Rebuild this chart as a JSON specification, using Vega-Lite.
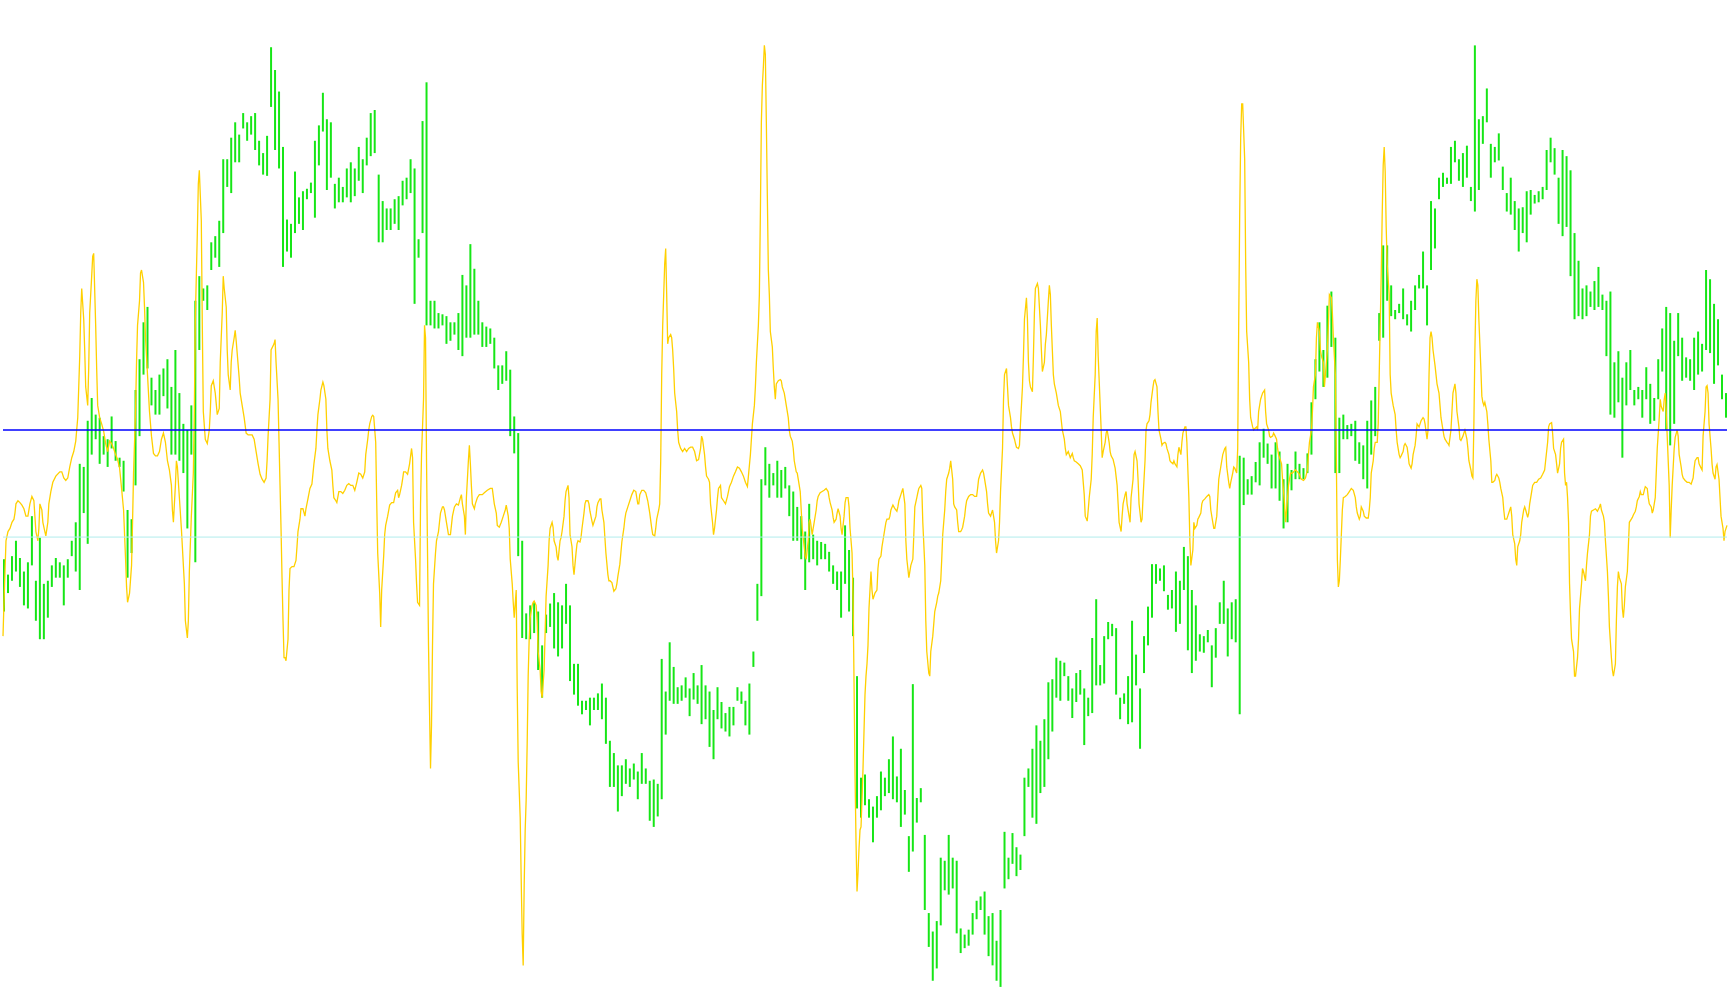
{
"$schema":"https://vega.github.io/schema/vega-lite/v6.json",
"width":1730,"height":1005,
"autosize":{"type":"fit","contains":"padding"},
"padding":0,
"background":"white",
"config":{"view":{"stroke":null}},
"datasets":{
"bars":[
{"x":1,"h":860,"l":945},{"x":5,"h":885,"l":915},{"x":9,"h":855,"l":895},{"x":13,"h":830,"l":880},{"x":17,"h":858,"l":905},{"x":21,"h":880,"l":935},{"x":25,"h":865,"l":940},{"x":29,"h":790,"l":870},{"x":33,"h":895,"l":960},{"x":37,"h":825,"l":990},
{"x":41,"h":900,"l":990},{"x":45,"h":895,"l":955},{"x":49,"h":870,"l":905},{"x":53,"h":858,"l":890},{"x":57,"h":865,"l":890},{"x":61,"h":870,"l":935},{"x":65,"h":860,"l":890},{"x":69,"h":830,"l":855},{"x":73,"h":800,"l":880},{"x":77,"h":705,"l":910},
{"x":81,"h":710,"l":785},{"x":85,"h":635,"l":835},{"x":89,"h":598,"l":690},{"x":93,"h":625,"l":665},{"x":97,"h":630,"l":705},{"x":101,"h":660,"l":690},{"x":105,"h":665,"l":710},{"x":109,"h":628,"l":680},{"x":113,"h":668,"l":700},{"x":117,"h":695,"l":710},
{"x":121,"h":700,"l":750},{"x":125,"h":780,"l":890},{"x":129,"h":795,"l":850},{"x":133,"h":585,"l":740},{"x":137,"h":535,"l":660},{"x":141,"h":475,"l":560},{"x":145,"h":450,"l":550},{"x":149,"h":565,"l":610},{"x":153,"h":585,"l":625},{"x":157,"h":560,"l":625},
{"x":161,"h":550,"l":595},{"x":165,"h":535,"l":615},{"x":169,"h":580,"l":690},{"x":173,"h":520,"l":690},{"x":177,"h":590,"l":700},{"x":181,"h":640,"l":720},{"x":185,"h":650,"l":810},{"x":189,"h":610,"l":690},{"x":193,"h":440,"l":865},{"x":197,"h":400,"l":520},
{"x":201,"h":420,"l":440},{"x":205,"h":415,"l":455},{"x":209,"h":345,"l":390},{"x":213,"h":335,"l":370},{"x":217,"h":310,"l":385},{"x":221,"h":210,"l":330},{"x":225,"h":210,"l":255},{"x":229,"h":175,"l":265},{"x":233,"h":150,"l":215},{"x":237,"h":170,"l":215},
{"x":241,"h":135,"l":160},{"x":245,"h":150,"l":180},{"x":249,"h":140,"l":170},{"x":253,"h":135,"l":195},{"x":257,"h":180,"l":220},{"x":261,"h":200,"l":235},{"x":265,"h":172,"l":237},{"x":269,"h":28,"l":125},{"x":273,"h":65,"l":195},{"x":277,"h":100,"l":225},
{"x":281,"h":190,"l":385},{"x":285,"h":308,"l":360},{"x":289,"h":315,"l":370},{"x":293,"h":230,"l":330},{"x":297,"h":272,"l":315},{"x":301,"h":262,"l":325},{"x":305,"h":258,"l":275},{"x":309,"h":248,"l":265},{"x":313,"h":180,"l":305},{"x":317,"h":155,"l":220},
{"x":321,"h":102,"l":165},{"x":325,"h":145,"l":260},{"x":329,"h":150,"l":240},{"x":333,"h":250,"l":290},{"x":337,"h":240,"l":280},{"x":341,"h":255,"l":280},{"x":345,"h":225,"l":272},{"x":349,"h":215,"l":280},{"x":353,"h":225,"l":270},{"x":357,"h":190,"l":245},
{"x":361,"h":210,"l":265},{"x":365,"h":175,"l":220},{"x":369,"h":135,"l":205},{"x":373,"h":130,"l":200},{"x":377,"h":235,"l":345},{"x":381,"h":278,"l":345},{"x":385,"h":290,"l":325},{"x":389,"h":290,"l":325},{"x":393,"h":275,"l":315},{"x":397,"h":270,"l":325},
{"x":401,"h":245,"l":285},{"x":405,"h":240,"l":275},{"x":409,"h":210,"l":265},{"x":413,"h":225,"l":445},{"x":417,"h":340,"l":370},{"x":421,"h":148,"l":330},{"x":425,"h":85,"l":480},{"x":429,"h":440,"l":480},{"x":433,"h":440,"l":485},{"x":437,"h":460,"l":485},
{"x":441,"h":462,"l":480},{"x":445,"h":465,"l":510},{"x":449,"h":475,"l":505},{"x":453,"h":475,"l":495},{"x":457,"h":460,"l":520},{"x":461,"h":398,"l":530},{"x":465,"h":415,"l":500},{"x":469,"h":348,"l":500},{"x":473,"h":388,"l":495},{"x":477,"h":440,"l":495},
{"x":481,"h":475,"l":515},{"x":485,"h":482,"l":515},{"x":489,"h":485,"l":510},{"x":493,"h":500,"l":550},{"x":497,"h":545,"l":585},{"x":501,"h":545,"l":575},{"x":505,"h":522,"l":570},{"x":509,"h":552,"l":660},{"x":513,"h":628,"l":688},{"x":517,"h":655,"l":855},
{"x":521,"h":830,"l":988},{"x":525,"h":948,"l":990},{"x":529,"h":935,"l":990},{"x":533,"h":930,"l":980},{"x":537,"h":945,"l":1040},{"x":541,"h":1000,"l":1085},{"x":545,"h":950,"l":980},{"x":549,"h":932,"l":970},{"x":553,"h":915,"l":1005},{"x":557,"h":930,"l":1018},
{"x":561,"h":935,"l":1005},{"x":565,"h":900,"l":965},{"x":569,"h":935,"l":1058},{"x":573,"h":1030,"l":1080},{"x":577,"h":1030,"l":1098},{"x":581,"h":1090,"l":1112},{"x":585,"h":1090,"l":1105},{"x":589,"h":1085,"l":1130},{"x":593,"h":1085,"l":1105},{"x":597,"h":1078,"l":1105},
{"x":601,"h":1062,"l":1120},{"x":605,"h":1085,"l":1160},{"x":609,"h":1155,"l":1230},{"x":613,"h":1175,"l":1230},{"x":617,"h":1195,"l":1270},{"x":621,"h":1195,"l":1245},{"x":625,"h":1185,"l":1225},{"x":629,"h":1200,"l":1230},{"x":633,"h":1192,"l":1218},{"x":637,"h":1205,"l":1250},
{"x":641,"h":1175,"l":1225},{"x":645,"h":1200,"l":1225},{"x":649,"h":1220,"l":1285},{"x":653,"h":1218,"l":1295},{"x":657,"h":1225,"l":1278},{"x":661,"h":1022,"l":1250},{"x":665,"h":1075,"l":1145},{"x":669,"h":995,"l":1090},{"x":673,"h":1035,"l":1095},{"x":677,"h":1068,"l":1095},
{"x":681,"h":1065,"l":1090},{"x":685,"h":1052,"l":1085},{"x":689,"h":1070,"l":1115},{"x":693,"h":1045,"l":1088},{"x":697,"h":1065,"l":1095},{"x":701,"h":1032,"l":1128},{"x":705,"h":1065,"l":1120},{"x":709,"h":1075,"l":1165},{"x":713,"h":1105,"l":1185},{"x":717,"h":1068,"l":1120},
{"x":721,"h":1092,"l":1135},{"x":725,"h":1110,"l":1140},{"x":729,"h":1100,"l":1148},{"x":733,"h":1100,"l":1130},{"x":737,"h":1068,"l":1090},{"x":741,"h":1075,"l":1095},{"x":745,"h":1090,"l":1130},{"x":749,"h":1062,"l":1145},{"x":753,"h":1010,"l":1035},{"x":757,"h":900,"l":960},
{"x":761,"h":730,"l":920},{"x":765,"h":678,"l":740},{"x":769,"h":705,"l":760},{"x":773,"h":720,"l":740},{"x":777,"h":700,"l":760},{"x":781,"h":715,"l":760},{"x":785,"h":710,"l":745},{"x":789,"h":740,"l":790},{"x":793,"h":750,"l":830},{"x":797,"h":775,"l":830},
{"x":801,"h":790,"l":860},{"x":805,"h":815,"l":910},{"x":809,"h":770,"l":865},{"x":813,"h":820,"l":860},{"x":817,"h":830,"l":870},{"x":821,"h":832,"l":860},{"x":825,"h":835,"l":860},{"x":829,"h":848,"l":880},{"x":833,"h":870,"l":900},{"x":837,"h":880,"l":910},
{"x":841,"h":880,"l":955},{"x":845,"h":805,"l":900},{"x":849,"h":845,"l":945},{"x":853,"h":890,"l":985},{"x":857,"h":1050,"l":1265},{"x":861,"h":1215,"l":1280},{"x":865,"h":1210,"l":1260},{"x":869,"h":1250,"l":1280},{"x":873,"h":1262,"l":1320},{"x":877,"h":1245,"l":1280},
{"x":881,"h":1205,"l":1268},{"x":885,"h":1215,"l":1245},{"x":889,"h":1185,"l":1240},{"x":893,"h":1148,"l":1250},{"x":897,"h":1213,"l":1255},{"x":901,"h":1168,"l":1295},{"x":905,"h":1235,"l":1275},{"x":909,"h":1310,"l":1368},{"x":913,"h":1063,"l":1335},{"x":917,"h":1248,"l":1288},
{"x":921,"h":1232,"l":1255},{"x":925,"h":1308,"l":1430},{"x":929,"h":1435,"l":1490},{"x":933,"h":1465,"l":1545},{"x":937,"h":1448,"l":1525},{"x":941,"h":1345,"l":1455},{"x":945,"h":1350,"l":1398},{"x":949,"h":1308,"l":1405},{"x":953,"h":1345,"l":1395},{"x":957,"h":1350,"l":1468},
{"x":961,"h":1460,"l":1500},{"x":965,"h":1470,"l":1492},{"x":969,"h":1462,"l":1488},{"x":973,"h":1435,"l":1470},{"x":977,"h":1415,"l":1445},{"x":981,"h":1408,"l":1430},{"x":985,"h":1400,"l":1470},{"x":989,"h":1440,"l":1505},{"x":993,"h":1435,"l":1520},{"x":997,"h":1480,"l":1545},
{"x":1001,"h":1430,"l":1555},{"x":1005,"h":1303,"l":1395},{"x":1009,"h":1345,"l":1380},{"x":1013,"h":1305,"l":1355},{"x":1017,"h":1328,"l":1375},{"x":1021,"h":1340,"l":1365},{"x":1025,"h":1215,"l":1310},{"x":1029,"h":1200,"l":1230},{"x":1033,"h":1168,"l":1280},{"x":1037,"h":1130,"l":1290},
{"x":1041,"h":1155,"l":1240},{"x":1045,"h":1120,"l":1230},{"x":1049,"h":1060,"l":1185},{"x":1053,"h":1055,"l":1140},{"x":1057,"h":1020,"l":1085},{"x":1061,"h":1025,"l":1090},{"x":1065,"h":1028,"l":1050},{"x":1069,"h":1050,"l":1090},{"x":1073,"h":1070,"l":1118},{"x":1077,"h":1045,"l":1092},
{"x":1081,"h":1040,"l":1080},{"x":1085,"h":1070,"l":1162},{"x":1089,"h":1085,"l":1115},{"x":1093,"h":988,"l":1110},{"x":1097,"h":925,"l":1065},{"x":1101,"h":1032,"l":1065},{"x":1105,"h":985,"l":1062},{"x":1109,"h":962,"l":990},{"x":1113,"h":965,"l":985},{"x":1117,"h":972,"l":1080},
{"x":1121,"h":1085,"l":1120},{"x":1125,"h":1078,"l":1095},{"x":1129,"h":1050,"l":1128},{"x":1133,"h":960,"l":1125},{"x":1137,"h":1015,"l":1065},{"x":1141,"h":1070,"l":1168},{"x":1145,"h":985,"l":1045},{"x":1149,"h":937,"l":1000},{"x":1153,"h":868,"l":955},{"x":1157,"h":868,"l":900},
{"x":1161,"h":875,"l":895},{"x":1165,"h":870,"l":912},{"x":1169,"h":918,"l":942},{"x":1173,"h":910,"l":940},{"x":1177,"h":880,"l":978},{"x":1181,"h":895,"l":965},{"x":1185,"h":840,"l":910},{"x":1189,"h":855,"l":1008},{"x":1193,"h":910,"l":1045},{"x":1197,"h":935,"l":1025},
{"x":1201,"h":982,"l":1010},{"x":1205,"h":985,"l":1012},{"x":1209,"h":975,"l":995},{"x":1213,"h":1000,"l":1068},{"x":1217,"h":972,"l":1020},{"x":1221,"h":930,"l":965},{"x":1225,"h":895,"l":965},{"x":1229,"h":940,"l":1018},{"x":1233,"h":930,"l":990},{"x":1237,"h":925,"l":995},
{"x":1241,"h":692,"l":1112},{"x":1245,"h":695,"l":772},{"x":1249,"h":730,"l":755},{"x":1253,"h":725,"l":755},{"x":1257,"h":702,"l":735},{"x":1261,"h":670,"l":740},{"x":1265,"h":648,"l":695},{"x":1269,"h":672,"l":705},{"x":1273,"h":690,"l":745},{"x":1277,"h":670,"l":745},
{"x":1281,"h":685,"l":765},{"x":1285,"h":730,"l":810},{"x":1289,"h":705,"l":800},{"x":1293,"h":715,"l":748},{"x":1297,"h":685,"l":730},{"x":1301,"h":705,"l":730},{"x":1305,"h":712,"l":730},{"x":1309,"h":688,"l":720},{"x":1313,"h":605,"l":690},{"x":1317,"h":535,"l":600},
{"x":1321,"h":475,"l":555},{"x":1325,"h":520,"l":580},{"x":1329,"h":448,"l":565},{"x":1333,"h":425,"l":515},{"x":1337,"h":500,"l":720},{"x":1341,"h":630,"l":720},{"x":1345,"h":625,"l":665},{"x":1349,"h":642,"l":665},{"x":1353,"h":640,"l":660},{"x":1357,"h":635,"l":700},
{"x":1361,"h":670,"l":705},{"x":1365,"h":675,"l":730},{"x":1369,"h":635,"l":745},{"x":1373,"h":602,"l":690},{"x":1377,"h":580,"l":660},{"x":1381,"h":460,"l":505},{"x":1385,"h":350,"l":500},{"x":1389,"h":350,"l":440},{"x":1393,"h":415,"l":465},{"x":1397,"h":455,"l":470},
{"x":1401,"h":445,"l":460},{"x":1405,"h":420,"l":470},{"x":1409,"h":462,"l":480},{"x":1413,"h":440,"l":490},{"x":1417,"h":415,"l":455},{"x":1421,"h":398,"l":420},{"x":1425,"h":360,"l":420},{"x":1429,"h":415,"l":480},{"x":1433,"h":278,"l":390},{"x":1437,"h":290,"l":355},
{"x":1441,"h":240,"l":275},{"x":1445,"h":232,"l":255},{"x":1449,"h":240,"l":250},{"x":1453,"h":190,"l":250},{"x":1457,"h":180,"l":215},{"x":1461,"h":210,"l":245},{"x":1465,"h":200,"l":255},{"x":1469,"h":188,"l":240},{"x":1473,"h":255,"l":278},{"x":1477,"h":25,"l":295},
{"x":1481,"h":145,"l":260},{"x":1485,"h":140,"l":185},{"x":1489,"h":95,"l":150},{"x":1493,"h":185,"l":240},{"x":1497,"h":190,"l":215},{"x":1501,"h":168,"l":212},{"x":1505,"h":222,"l":260},{"x":1509,"h":265,"l":295},{"x":1513,"h":240,"l":300},{"x":1517,"h":278,"l":325},
{"x":1521,"h":290,"l":360},{"x":1525,"h":288,"l":330},{"x":1529,"h":262,"l":345},{"x":1533,"h":260,"l":300},{"x":1537,"h":268,"l":282},{"x":1541,"h":262,"l":280},{"x":1545,"h":255,"l":275},{"x":1549,"h":195,"l":260},{"x":1553,"h":175,"l":215},{"x":1557,"h":192,"l":235},
{"x":1561,"h":240,"l":315},{"x":1565,"h":195,"l":335},{"x":1569,"h":205,"l":320},{"x":1573,"h":228,"l":400},{"x":1577,"h":330,"l":470},{"x":1581,"h":375,"l":465},{"x":1585,"h":420,"l":470},{"x":1589,"h":415,"l":465},{"x":1593,"h":425,"l":450},{"x":1597,"h":408,"l":455},
{"x":1601,"h":385,"l":450},{"x":1605,"h":430,"l":455},{"x":1609,"h":440,"l":530},{"x":1613,"h":425,"l":625},{"x":1617,"h":540,"l":630},{"x":1621,"h":522,"l":605},{"x":1625,"h":565,"l":695},{"x":1629,"h":540,"l":610},{"x":1633,"h":520,"l":585},{"x":1637,"h":585,"l":610},
{"x":1641,"h":580,"l":600},{"x":1645,"h":585,"l":630},{"x":1649,"h":548,"l":600},{"x":1653,"h":575,"l":640},{"x":1657,"h":598,"l":635},{"x":1661,"h":535,"l":600},{"x":1665,"h":485,"l":555},{"x":1669,"h":450,"l":650},{"x":1673,"h":460,"l":675},{"x":1677,"h":505,"l":640},
{"x":1681,"h":460,"l":530},{"x":1685,"h":500,"l":570},{"x":1689,"h":532,"l":565},{"x":1693,"h":535,"l":570},{"x":1697,"h":500,"l":585},{"x":1701,"h":490,"l":560},{"x":1705,"h":510,"l":555},{"x":1709,"h":390,"l":520},{"x":1713,"h":405,"l":525},{"x":1717,"h":445,"l":575},
{"x":1721,"h":470,"l":545},{"x":1725,"h":560,"l":600},{"x":1729,"h":590,"l":630}
],
"osc":[
{"x":0,"v":985},{"x":1,"v":930},{"x":2,"v":880},{"x":3,"v":830},{"x":5,"v":815},{"x":7,"v":810},{"x":9,"v":800},{"x":11,"v":795},{"x":12,"v":785},{"x":13,"v":770},{"x":15,"v":765},{"x":17,"v":768},{"x":19,"v":772},{"x":21,"v":778},{"x":23,"v":790},{"x":25,"v":790},{"x":27,"v":770},{"x":29,"v":758},{"x":31,"v":765},{"x":32,"v":790},{"x":33,"v":815},{"x":35,"v":830},{"x":36,"v":810},{"x":37,"v":770},{"x":39,"v":780},{"x":40,"v":800},{"x":42,"v":815},{"x":43,"v":822},{"x":45,"v":800},{"x":46,"v":770},{"x":48,"v":750},{"x":50,"v":735},{"x":53,"v":725},{"x":57,"v":718},{"x":59,"v":718},{"x":61,"v":728},{"x":63,"v":732},{"x":65,"v":728},{"x":67,"v":710},{"x":69,"v":695},{"x":71,"v":685},{"x":73,"v":668},{"x":75,"v":630},{"x":76,"v":580},{"x":77,"v":530},{"x":78,"v":460},{"x":79,"v":420},{"x":81,"v":470},{"x":82,"v":520},{"x":83,"v":580},{"x":85,"v":610},{"x":86,"v":550},{"x":87,"v":460},{"x":89,"v":400},{"x":90,"v":368},{"x":91,"v":363},{"x":93,"v":480},{"x":94,"v":550},{"x":95,"v":610},{"x":97,"v":630},{"x":99,"v":640},{"x":101,"v":652},{"x":103,"v":672},{"x":105,"v":685},{"x":107,"v":668},{"x":109,"v":672},{"x":111,"v":680},{"x":113,"v":690},{"x":115,"v":698},{"x":117,"v":712},{"x":119,"v":745},{"x":121,"v":780},{"x":123,"v":860},{"x":124,"v":905},{"x":125,"v":930},{"x":127,"v":915},{"x":129,"v":870},{"x":130,"v":800},{"x":131,"v":720},{"x":133,"v":620},{"x":134,"v":540},{"x":135,"v":480},{"x":137,"v":440},{"x":138,"v":395},{"x":139,"v":390},{"x":141,"v":410},{"x":142,"v":450},{"x":143,"v":500},{"x":145,"v":560},{"x":147,"v":620},{"x":149,"v":660},{"x":151,"v":688},{"x":153,"v":692},{"x":155,"v":692},{"x":157,"v":685},{"x":159,"v":665},{"x":161,"v":655},{"x":163,"v":670},{"x":165,"v":700},{"x":167,"v":715},{"x":169,"v":740},{"x":170,"v":780},{"x":171,"v":800},{"x":173,"v":740},{"x":174,"v":700},{"x":175,"v":710},{"x":177,"v":760},{"x":179,"v":810},{"x":180,"v":840},{"x":182,"v":900},{"x":183,"v":960},{"x":185,"v":988},{"x":186,"v":960},{"x":187,"v":880},{"x":189,"v":790},{"x":191,"v":720},{"x":192,"v":620},{"x":193,"v":470},{"x":195,"v":330},{"x":196,"v":250},{"x":197,"v":228},{"x":199,"v":310},{"x":200,"v":480},{"x":201,"v":620},{"x":203,"v":665},{"x":205,"v":672},{"x":207,"v":650},{"x":208,"v":620},{"x":209,"v":578},{"x":211,"v":570},{"x":213,"v":590},{"x":215,"v":625},
{"x":217,"v":615},{"x":218,"v":540},{"x":220,"v":460},{"x":221,"v":400},{"x":222,"v":420},{"x":224,"v":450},{"x":225,"v":520},{"x":226,"v":560},{"x":228,"v":585},{"x":229,"v":540},{"x":230,"v":520},{"x":232,"v":500},{"x":233,"v":488},{"x":234,"v":505},{"x":236,"v":545},{"x":237,"v":565},{"x":238,"v":590},{"x":240,"v":610},{"x":242,"v":630},{"x":244,"v":655},{"x":246,"v":658},{"x":250,"v":658},{"x":252,"v":665},{"x":254,"v":685},{"x":256,"v":705},{"x":258,"v":722},{"x":260,"v":730},{"x":262,"v":735},{"x":264,"v":728},{"x":265,"v":700},{"x":266,"v":660},{"x":268,"v":600},{"x":269,"v":520},{"x":272,"v":510},{"x":273,"v":503},{"x":274,"v":540},{"x":276,"v":600},{"x":277,"v":670},{"x":278,"v":740},{"x":279,"v":810},{"x":280,"v":890},{"x":281,"v":960},{"x":282,"v":1020},{"x":283,"v":1020},{"x":284,"v":1025},{"x":286,"v":990},{"x":287,"v":910},{"x":288,"v":875},{"x":290,"v":872},{"x":292,"v":872},{"x":294,"v":862},{"x":295,"v":840},{"x":296,"v":815},{"x":298,"v":795},{"x":299,"v":778},{"x":301,"v":778},{"x":303,"v":790},{"x":304,"v":778},{"x":306,"v":762},{"x":308,"v":745},{"x":310,"v":738},{"x":312,"v":705},{"x":314,"v":680},{"x":315,"v":650},{"x":316,"v":625},{"x":318,"v":600},{"x":319,"v":585},{"x":321,"v":572},{"x":322,"v":578},{"x":324,"v":600},{"x":325,"v":650},{"x":326,"v":680},{"x":328,"v":700},{"x":330,"v":715},{"x":331,"v":740},{"x":332,"v":760},{"x":334,"v":765},{"x":335,"v":768},{"x":337,"v":750},{"x":339,"v":750},{"x":341,"v":753},{"x":343,"v":748},{"x":345,"v":740},{"x":347,"v":737},{"x":349,"v":740},{"x":351,"v":740},{"x":353,"v":748},{"x":355,"v":735},{"x":357,"v":720},{"x":359,"v":722},{"x":361,"v":728},{"x":363,"v":718},{"x":364,"v":690},{"x":366,"v":665},{"x":367,"v":650},{"x":368,"v":640},{"x":370,"v":628},{"x":371,"v":626},{"x":372,"v":628},{"x":374,"v":670},{"x":375,"v":765},{"x":376,"v":850},{"x":378,"v":915},{"x":379,"v":970},{"x":380,"v":910},{"x":382,"v":855},{"x":383,"v":820},{"x":384,"v":805},{"x":386,"v":790},{"x":388,"v":772},{"x":390,"v":768},{"x":392,"v":768},{"x":393,"v":760},{"x":394,"v":752},{"x":396,"v":748},{"x":397,"v":760},{"x":398,"v":755},{"x":400,"v":740},{"x":401,"v":730},{"x":402,"v":718},{"x":404,"v":718},{"x":406,"v":722},{"x":408,"v":705},{"x":410,"v":680},{"x":411,"v":695},{"x":412,"v":800},{"x":414,"v":860},{"x":415,"v":900},{"x":416,"v":930},{"x":418,"v":935},{"x":419,"v":770},{"x":420,"v":690},{"x":422,"v":600},{"x":423,"v":480},{"x":424,"v":500},{"x":425,"v":700},{"x":426,"v":850},{"x":427,"v":1000},{"x":428,"v":1105},{"x":429,"v":1200},{"x":430,"v":1130},{"x":431,"v":1000},{"x":432,"v":900},{"x":434,"v":850},
{"x":435,"v":830},{"x":437,"v":815},{"x":438,"v":800},{"x":439,"v":785},{"x":441,"v":775},{"x":442,"v":775},{"x":443,"v":780},{"x":445,"v":800},{"x":446,"v":810},{"x":447,"v":820},{"x":449,"v":820},{"x":450,"v":805},{"x":451,"v":790},{"x":453,"v":775},{"x":455,"v":770},{"x":457,"v":772},{"x":459,"v":760},{"x":460,"v":755},{"x":461,"v":770},{"x":463,"v":790},{"x":464,"v":820},{"x":465,"v":760},{"x":467,"v":700},{"x":468,"v":675},{"x":469,"v":705},{"x":470,"v":740},{"x":471,"v":770},{"x":473,"v":778},{"x":474,"v":770},{"x":476,"v":760},{"x":478,"v":755},{"x":481,"v":755},{"x":483,"v":752},{"x":486,"v":748},{"x":489,"v":745},{"x":491,"v":745},{"x":493,"v":770},{"x":495,"v":785},{"x":496,"v":805},{"x":498,"v":808},{"x":500,"v":800},{"x":502,"v":790},{"x":504,"v":780},{"x":505,"v":772},{"x":507,"v":790},{"x":508,"v":810},{"x":509,"v":860},{"x":511,"v":900},{"x":512,"v":930},{"x":513,"v":955},{"x":515,"v":910},{"x":516,"v":1070},{"x":517,"v":1190},{"x":519,"v":1280},{"x":520,"v":1380},{"x":521,"v":1470},{"x":522,"v":1520},{"x":523,"v":1390},{"x":524,"v":1300},{"x":525,"v":1250},{"x":526,"v":1160},{"x":527,"v":1050},{"x":528,"v":990},{"x":529,"v":955},{"x":531,"v":935},{"x":532,"v":930},{"x":533,"v":928},{"x":535,"v":935},{"x":536,"v":960},{"x":537,"v":1010},{"x":539,"v":1040},{"x":540,"v":1075},{"x":541,"v":1085},{"x":543,"v":1040},{"x":544,"v":980},{"x":545,"v":920},{"x":547,"v":870},{"x":548,"v":830},{"x":549,"v":810},{"x":551,"v":800},{"x":552,"v":808},{"x":553,"v":830},{"x":555,"v":840},{"x":556,"v":855},{"x":557,"v":862},{"x":559,"v":830},{"x":560,"v":825},{"x":561,"v":815},{"x":563,"v":790},{"x":564,"v":765},{"x":565,"v":750},{"x":567,"v":740},{"x":568,"v":760},{"x":569,"v":820},{"x":571,"v":840},{"x":572,"v":870},{"x":573,"v":885},{"x":575,"v":850},{"x":576,"v":835},{"x":577,"v":830},{"x":579,"v":832},{"x":580,"v":825},{"x":581,"v":810},{"x":583,"v":785},{"x":584,"v":770},{"x":585,"v":765},{"x":587,"v":765},{"x":588,"v":770},{"x":589,"v":782},{"x":591,"v":798},{"x":592,"v":805},{"x":593,"v":800},{"x":595,"v":790},{"x":596,"v":775},{"x":597,"v":768},{"x":599,"v":762},{"x":600,"v":762},{"x":601,"v":780},{"x":603,"v":800},{"x":604,"v":825},{"x":605,"v":850},{"x":607,"v":885},{"x":608,"v":895},{"x":609,"v":895},{"x":611,"v":898},{"x":612,"v":905},{"x":613,"v":912},{"x":615,"v":908},{"x":616,"v":900},{"x":617,"v":888},{"x":619,"v":868},{"x":620,"v":850},{"x":621,"v":832},{"x":623,"v":810},{"x":624,"v":795},{"x":625,"v":785},{"x":627,"v":775},{"x":629,"v":765},{"x":631,"v":755},{"x":633,"v":748},{"x":635,"v":750},{"x":637,"v":770},{"x":638,"v":770},{"x":639,"v":755},{"x":641,"v":748},{"x":643,"v":748},{"x":645,"v":752},{"x":647,"v":765},{"x":649,"v":785},{"x":651,"v":810},
{"x":652,"v":820},{"x":654,"v":822},{"x":655,"v":810},{"x":656,"v":795},{"x":658,"v":780},{"x":659,"v":770},{"x":660,"v":700},{"x":661,"v":560},{"x":662,"v":480},{"x":663,"v":430},{"x":664,"v":380},{"x":665,"v":355},{"x":666,"v":430},{"x":667,"v":510},{"x":668,"v":500},{"x":670,"v":495},{"x":671,"v":500},{"x":672,"v":520},{"x":673,"v":550},{"x":674,"v":590},{"x":676,"v":620},{"x":677,"v":650},{"x":678,"v":670},{"x":680,"v":680},{"x":682,"v":685},{"x":684,"v":680},{"x":686,"v":685},{"x":688,"v":680},{"x":690,"v":678},{"x":692,"v":678},{"x":694,"v":685},{"x":696,"v":700},{"x":698,"v":698},{"x":700,"v":680},{"x":701,"v":660},{"x":702,"v":665},{"x":704,"v":690},{"x":705,"v":710},{"x":706,"v":725},{"x":708,"v":730},{"x":709,"v":735},{"x":710,"v":770},{"x":712,"v":800},{"x":713,"v":820},{"x":714,"v":810},{"x":716,"v":780},{"x":717,"v":760},{"x":718,"v":745},{"x":720,"v":740},{"x":721,"v":760},{"x":723,"v":765},{"x":725,"v":770},{"x":727,"v":758},{"x":729,"v":742},{"x":731,"v":735},{"x":733,"v":725},{"x":735,"v":718},{"x":737,"v":710},{"x":739,"v":712},{"x":741,"v":718},{"x":743,"v":725},{"x":745,"v":735},{"x":747,"v":742},{"x":748,"v":725},{"x":750,"v":690},{"x":751,"v":665},{"x":752,"v":640},{"x":754,"v":610},{"x":755,"v":580},{"x":756,"v":540},{"x":758,"v":480},{"x":759,"v":430},{"x":760,"v":300},{"x":761,"v":150},{"x":762,"v":90},{"x":763,"v":60},{"x":764,"v":25},{"x":765,"v":40},{"x":766,"v":150},{"x":767,"v":270},{"x":768,"v":390},{"x":769,"v":430},{"x":770,"v":490},{"x":772,"v":515},{"x":773,"v":550},{"x":774,"v":580},{"x":775,"v":600},{"x":776,"v":575},{"x":778,"v":570},{"x":780,"v":568},{"x":781,"v":570},{"x":782,"v":580},{"x":784,"v":590},{"x":785,"v":600},{"x":786,"v":610},{"x":788,"v":630},{"x":789,"v":650},{"x":790,"v":660},{"x":792,"v":668},{"x":793,"v":680},{"x":794,"v":700},{"x":796,"v":718},{"x":797,"v":720},{"x":798,"v":730},{"x":800,"v":750},{"x":801,"v":780},{"x":802,"v":810},{"x":804,"v":840},{"x":805,"v":855},{"x":806,"v":860},{"x":808,"v":830},{"x":809,"v":800},{"x":810,"v":795},{"x":812,"v":820},{"x":813,"v":810},{"x":814,"v":800},{"x":816,"v":780},{"x":817,"v":765},{"x":818,"v":758},{"x":820,"v":752},{"x":822,"v":750},{"x":824,"v":748},{"x":826,"v":745},{"x":828,"v":750},{"x":829,"v":760},{"x":830,"v":768},{"x":832,"v":780},{"x":833,"v":792},{"x":834,"v":800},{"x":836,"v":795},{"x":837,"v":785},{"x":838,"v":778},{"x":840,"v":790},{"x":841,"v":810},{"x":842,"v":820},{"x":844,"v":790},{"x":845,"v":768},{"x":846,"v":760},{"x":848,"v":760},{"x":849,"v":775},{"x":850,"v":810},{"x":852,"v":850},{"x":853,"v":920},{"x":854,"v":1060},{"x":855,"v":1210},{"x":856,"v":1320},{"x":857,"v":1400},{"x":858,"v":1370},{"x":859,"v":1330},{"x":860,"v":1300},{"x":861,"v":1295},{"x":862,"v":1250},{"x":863,"v":1200},{"x":864,"v":1140},{"x":865,"v":1080},{"x":866,"v":1050},{"x":867,"v":1030},{"x":868,"v":1000},
{"x":869,"v":940},{"x":871,"v":880},{"x":872,"v":910},{"x":873,"v":925},{"x":875,"v":915},{"x":877,"v":910},{"x":878,"v":875},{"x":879,"v":860},{"x":881,"v":855},{"x":882,"v":840},{"x":883,"v":830},{"x":885,"v":810},{"x":886,"v":800},{"x":887,"v":795},{"x":889,"v":795},{"x":890,"v":790},{"x":891,"v":780},{"x":893,"v":772},{"x":894,"v":775},{"x":895,"v":778},{"x":897,"v":782},{"x":898,"v":775},{"x":899,"v":765},{"x":901,"v":755},{"x":902,"v":750},{"x":903,"v":745},{"x":905,"v":770},{"x":906,"v":830},{"x":907,"v":860},{"x":909,"v":890},{"x":910,"v":880},{"x":911,"v":870},{"x":913,"v":860},{"x":914,"v":820},{"x":915,"v":775},{"x":917,"v":760},{"x":918,"v":752},{"x":919,"v":745},{"x":921,"v":740},{"x":922,"v":745},{"x":923,"v":800},{"x":925,"v":870},{"x":926,"v":960},{"x":927,"v":1010},{"x":929,"v":1045},{"x":930,"v":1050},{"x":931,"v":1010},{"x":933,"v":985},{"x":934,"v":965},{"x":935,"v":945},{"x":937,"v":930},{"x":938,"v":920},{"x":939,"v":915},{"x":941,"v":895},{"x":942,"v":860},{"x":943,"v":820},{"x":945,"v":780},{"x":946,"v":750},{"x":947,"v":730},{"x":949,"v":720},{"x":950,"v":712},{"x":951,"v":700},{"x":953,"v":730},{"x":954,"v":770},{"x":955,"v":775},{"x":957,"v":780},{"x":958,"v":800},{"x":959,"v":815},{"x":961,"v":815},{"x":962,"v":812},{"x":963,"v":808},{"x":965,"v":790},{"x":966,"v":775},{"x":967,"v":765},{"x":969,"v":758},{"x":971,"v":755},{"x":973,"v":755},{"x":975,"v":758},{"x":977,"v":758},{"x":978,"v":745},{"x":979,"v":730},{"x":981,"v":720},{"x":983,"v":715},{"x":984,"v":720},{"x":985,"v":730},{"x":987,"v":750},{"x":988,"v":770},{"x":989,"v":785},{"x":991,"v":790},{"x":992,"v":785},{"x":993,"v":780},{"x":995,"v":800},{"x":996,"v":830},{"x":997,"v":850},{"x":999,"v":830},{"x":1000,"v":800},{"x":1001,"v":750},{"x":1003,"v":680},{"x":1004,"v":600},{"x":1005,"v":560},{"x":1007,"v":550},{"x":1008,"v":580},{"x":1009,"v":610},{"x":1011,"v":630},{"x":1012,"v":645},{"x":1013,"v":655},{"x":1015,"v":665},{"x":1016,"v":672},{"x":1017,"v":678},{"x":1019,"v":680},{"x":1020,"v":675},{"x":1021,"v":640},{"x":1023,"v":580},{"x":1024,"v":530},{"x":1025,"v":470},{"x":1027,"v":435},{"x":1028,"v":470},{"x":1029,"v":540},{"x":1030,"v":570},{"x":1031,"v":580},{"x":1033,"v":588},{"x":1034,"v":530},{"x":1035,"v":460},{"x":1036,"v":420},{"x":1038,"v":412},{"x":1039,"v":420},{"x":1041,"v":480},{"x":1042,"v":520},{"x":1043,"v":555},{"x":1045,"v":540},{"x":1046,"v":510},{"x":1047,"v":495},{"x":1049,"v":440},{"x":1050,"v":415},{"x":1051,"v":430},{"x":1052,"v":480},{"x":1053,"v":520},{"x":1054,"v":560},{"x":1055,"v":575},{"x":1057,"v":590},{"x":1058,"v":600},{"x":1059,"v":610},{"x":1061,"v":620},{"x":1062,"v":635},{"x":1063,"v":650},{"x":1065,"v":665},{"x":1066,"v":680},{"x":1067,"v":690},{"x":1069,"v":685},{"x":1070,"v":690},{"x":1071,"v":695},{"x":1073,"v":688},{"x":1074,"v":695},{"x":1075,"v":700},{"x":1077,"v":702},{"x":1079,"v":705},{"x":1081,"v":708},{"x":1083,"v":715},{"x":1085,"v":755},
{"x":1086,"v":790},{"x":1088,"v":798},{"x":1089,"v":780},{"x":1090,"v":760},{"x":1092,"v":730},{"x":1093,"v":690},{"x":1094,"v":630},{"x":1096,"v":560},{"x":1097,"v":490},{"x":1098,"v":468},{"x":1099,"v":530},{"x":1100,"v":570},{"x":1102,"v":650},{"x":1103,"v":695},{"x":1104,"v":685},{"x":1106,"v":670},{"x":1107,"v":655},{"x":1108,"v":650},{"x":1110,"v":670},{"x":1111,"v":685},{"x":1112,"v":692},{"x":1114,"v":698},{"x":1115,"v":705},{"x":1116,"v":712},{"x":1118,"v":740},{"x":1119,"v":770},{"x":1120,"v":800},{"x":1122,"v":815},{"x":1123,"v":790},{"x":1124,"v":770},{"x":1126,"v":755},{"x":1127,"v":750},{"x":1128,"v":770},{"x":1130,"v":790},{"x":1131,"v":800},{"x":1132,"v":760},{"x":1134,"v":730},{"x":1135,"v":690},{"x":1136,"v":685},{"x":1138,"v":700},{"x":1139,"v":730},{"x":1140,"v":770},{"x":1142,"v":800},{"x":1143,"v":795},{"x":1144,"v":760},{"x":1146,"v":700},{"x":1147,"v":650},{"x":1148,"v":640},{"x":1150,"v":635},{"x":1151,"v":625},{"x":1152,"v":605},{"x":1154,"v":580},{"x":1155,"v":570},{"x":1156,"v":568},{"x":1158,"v":580},{"x":1159,"v":620},{"x":1160,"v":650},{"x":1162,"v":665},{"x":1163,"v":675},{"x":1164,"v":672},{"x":1166,"v":670},{"x":1167,"v":672},{"x":1168,"v":680},{"x":1170,"v":690},{"x":1171,"v":700},{"x":1172,"v":702},{"x":1174,"v":705},{"x":1175,"v":700},{"x":1176,"v":705},{"x":1178,"v":710},{"x":1179,"v":690},{"x":1180,"v":678},{"x":1182,"v":690},{"x":1183,"v":670},{"x":1184,"v":655},{"x":1186,"v":645},{"x":1187,"v":645},{"x":1188,"v":670},{"x":1190,"v":760},{"x":1191,"v":830},{"x":1192,"v":870},{"x":1194,"v":845},{"x":1195,"v":800},{"x":1196,"v":810},{"x":1198,"v":805},{"x":1199,"v":795},{"x":1200,"v":792},{"x":1202,"v":785},{"x":1203,"v":770},{"x":1204,"v":765},{"x":1206,"v":762},{"x":1207,"v":760},{"x":1208,"v":758},{"x":1210,"v":755},{"x":1211,"v":758},{"x":1212,"v":780},{"x":1214,"v":800},{"x":1215,"v":810},{"x":1216,"v":810},{"x":1218,"v":790},{"x":1219,"v":760},{"x":1220,"v":730},{"x":1222,"v":710},{"x":1223,"v":700},{"x":1224,"v":690},{"x":1226,"v":680},{"x":1227,"v":678},{"x":1228,"v":710},{"x":1230,"v":735},{"x":1231,"v":745},{"x":1232,"v":735},{"x":1234,"v":720},{"x":1235,"v":710},{"x":1236,"v":712},{"x":1238,"v":720},{"x":1239,"v":680},{"x":1240,"v":480},{"x":1241,"v":300},{"x":1242,"v":175},{"x":1243,"v":120},{"x":1244,"v":120},{"x":1246,"v":210},{"x":1247,"v":380},{"x":1248,"v":490},{"x":1250,"v":540},{"x":1251,"v":600},{"x":1252,"v":630},{"x":1254,"v":645},{"x":1255,"v":650},{"x":1256,"v":648},{"x":1258,"v":645},{"x":1259,"v":650},{"x":1260,"v":620},{"x":1262,"v":600},{"x":1263,"v":595},{"x":1264,"v":590},{"x":1266,"v":585},{"x":1267,"v":620},{"x":1268,"v":640},{"x":1270,"v":650},{"x":1271,"v":660},{"x":1272,"v":662},{"x":1274,"v":660},{"x":1275,"v":655},{"x":1276,"v":658},{"x":1278,"v":665},{"x":1279,"v":680},{"x":1280,"v":690},{"x":1282,"v":700},{"x":1283,"v":705},{"x":1284,"v":730},{"x":1286,"v":770},{"x":1287,"v":800},{"x":1288,"v":780},{"x":1290,"v":740},{"x":1291,"v":730},{"x":1292,"v":720},{"x":1294,"v":720},{"x":1295,"v":718},{"x":1297,"v":715},{"x":1299,"v":718},{"x":1301,"v":722},
{"x":1302,"v":728},{"x":1303,"v":730},{"x":1305,"v":732},{"x":1306,"v":730},{"x":1307,"v":728},{"x":1309,"v":715},{"x":1310,"v":690},{"x":1311,"v":670},{"x":1313,"v":650},{"x":1314,"v":620},{"x":1315,"v":580},{"x":1317,"v":560},{"x":1318,"v":500},{"x":1319,"v":475},{"x":1321,"v":490},{"x":1322,"v":520},{"x":1323,"v":530},{"x":1325,"v":540},{"x":1326,"v":580},{"x":1327,"v":560},{"x":1329,"v":520},{"x":1330,"v":480},{"x":1331,"v":430},{"x":1333,"v":435},{"x":1334,"v":460},{"x":1335,"v":500},{"x":1337,"v":560},{"x":1338,"v":700},{"x":1339,"v":860},{"x":1340,"v":905},{"x":1341,"v":895},{"x":1342,"v":860},{"x":1343,"v":820},{"x":1344,"v":780},{"x":1345,"v":760},{"x":1347,"v":758},{"x":1349,"v":755},{"x":1351,"v":750},{"x":1353,"v":745},{"x":1355,"v":748},{"x":1357,"v":760},{"x":1358,"v":775},{"x":1359,"v":785},{"x":1361,"v":795},{"x":1362,"v":790},{"x":1363,"v":775},{"x":1365,"v":782},{"x":1366,"v":790},{"x":1368,"v":793},{"x":1370,"v":793},{"x":1371,"v":780},{"x":1372,"v":760},{"x":1373,"v":720},{"x":1375,"v":700},{"x":1376,"v":680},{"x":1377,"v":670},{"x":1379,"v":670},{"x":1380,"v":640},{"x":1381,"v":560},{"x":1383,"v":400},{"x":1384,"v":300},{"x":1385,"v":220},{"x":1386,"v":190},{"x":1387,"v":230},{"x":1388,"v":320},{"x":1389,"v":380},{"x":1391,"v":430},{"x":1392,"v":560},{"x":1393,"v":590},{"x":1395,"v":610},{"x":1397,"v":625},{"x":1398,"v":650},{"x":1399,"v":670},{"x":1401,"v":690},{"x":1402,"v":695},{"x":1403,"v":692},{"x":1405,"v":685},{"x":1406,"v":675},{"x":1407,"v":672},{"x":1409,"v":678},{"x":1410,"v":690},{"x":1411,"v":705},{"x":1413,"v":712},{"x":1414,"v":705},{"x":1415,"v":690},{"x":1417,"v":675},{"x":1418,"v":660},{"x":1419,"v":640},{"x":1421,"v":645},{"x":1422,"v":640},{"x":1423,"v":635},{"x":1425,"v":630},{"x":1426,"v":632},{"x":1427,"v":640},{"x":1429,"v":665},{"x":1430,"v":650},{"x":1431,"v":560},{"x":1432,"v":500},{"x":1433,"v":490},{"x":1434,"v":500},{"x":1435,"v":520},{"x":1437,"v":545},{"x":1438,"v":560},{"x":1439,"v":575},{"x":1441,"v":590},{"x":1442,"v":610},{"x":1443,"v":630},{"x":1445,"v":650},{"x":1446,"v":660},{"x":1447,"v":665},{"x":1449,"v":670},{"x":1450,"v":672},{"x":1451,"v":675},{"x":1453,"v":650},{"x":1454,"v":620},{"x":1455,"v":590},{"x":1457,"v":575},{"x":1458,"v":590},{"x":1459,"v":620},{"x":1461,"v":645},{"x":1462,"v":665},{"x":1463,"v":667},{"x":1465,"v":660},{"x":1466,"v":655},{"x":1467,"v":650},{"x":1469,"v":665},{"x":1470,"v":680},{"x":1471,"v":700},{"x":1473,"v":715},{"x":1474,"v":725},{"x":1475,"v":728},{"x":1476,"v":640},{"x":1477,"v":520},{"x":1478,"v":440},{"x":1479,"v":405},{"x":1480,"v":415},{"x":1481,"v":470},{"x":1483,"v":550},{"x":1484,"v":595},{"x":1485,"v":605},{"x":1486,"v":610},{"x":1487,"v":605},{"x":1489,"v":620},{"x":1490,"v":640},{"x":1491,"v":665},{"x":1493,"v":700},{"x":1494,"v":735},{"x":1495,"v":735},{"x":1497,"v":732},{"x":1498,"v":725},{"x":1499,"v":722},{"x":1501,"v":728},{"x":1502,"v":735},{"x":1503,"v":745},{"x":1505,"v":760},{"x":1506,"v":780},{"x":1507,"v":795},{"x":1509,"v":795},{"x":1510,"v":790},{"x":1511,"v":785},{"x":1513,"v":775},{"x":1514,"v":790},{"x":1515,"v":820},{"x":1517,"v":835},{"x":1518,"v":860},
{"x":1519,"v":870},{"x":1520,"v":840},{"x":1522,"v":830},{"x":1523,"v":820},{"x":1524,"v":800},{"x":1526,"v":780},{"x":1527,"v":775},{"x":1528,"v":780},{"x":1530,"v":792},{"x":1531,"v":785},{"x":1532,"v":770},{"x":1534,"v":750},{"x":1535,"v":740},{"x":1537,"v":735},{"x":1539,"v":735},{"x":1541,"v":730},{"x":1543,"v":728},{"x":1545,"v":722},{"x":1547,"v":715},{"x":1548,"v":700},{"x":1550,"v":670},{"x":1551,"v":645},{"x":1552,"v":640},{"x":1554,"v":638},{"x":1555,"v":655},{"x":1556,"v":680},{"x":1558,"v":690},{"x":1559,"v":705},{"x":1560,"v":720},{"x":1562,"v":705},{"x":1563,"v":680},{"x":1564,"v":670},{"x":1566,"v":665},{"x":1567,"v":720},{"x":1568,"v":740},{"x":1569,"v":735},{"x":1570,"v":760},{"x":1571,"v":800},{"x":1572,"v":900},{"x":1573,"v":950},{"x":1574,"v":990},{"x":1576,"v":1010},{"x":1577,"v":1050},{"x":1578,"v":1050},{"x":1580,"v":1020},{"x":1581,"v":990},{"x":1582,"v":940},{"x":1584,"v":900},{"x":1585,"v":875},{"x":1586,"v":880},{"x":1588,"v":895},{"x":1589,"v":870},{"x":1590,"v":850},{"x":1592,"v":820},{"x":1593,"v":790},{"x":1594,"v":782},{"x":1596,"v":780},{"x":1598,"v":778},{"x":1600,"v":782},{"x":1602,"v":775},{"x":1603,"v":770},{"x":1604,"v":780},{"x":1606,"v":790},{"x":1607,"v":800},{"x":1608,"v":830},{"x":1610,"v":880},{"x":1611,"v":920},{"x":1612,"v":970},{"x":1614,"v":1020},{"x":1615,"v":1040},{"x":1616,"v":1050},{"x":1618,"v":1030},{"x":1619,"v":960},{"x":1620,"v":905},{"x":1621,"v":880},{"x":1622,"v":890},{"x":1624,"v":900},{"x":1625,"v":940},{"x":1626,"v":955},{"x":1627,"v":935},{"x":1628,"v":905},{"x":1630,"v":880},{"x":1631,"v":840},{"x":1632,"v":800},{"x":1634,"v":795},{"x":1635,"v":792},{"x":1636,"v":788},{"x":1638,"v":782},{"x":1639,"v":775},{"x":1640,"v":765},{"x":1642,"v":758},{"x":1643,"v":750},{"x":1644,"v":755},{"x":1646,"v":755},{"x":1647,"v":748},{"x":1648,"v":742},{"x":1650,"v":745},{"x":1651,"v":760},{"x":1652,"v":770},{"x":1654,"v":775},{"x":1655,"v":785},{"x":1656,"v":780},{"x":1658,"v":760},{"x":1659,"v":720},{"x":1660,"v":680},{"x":1662,"v":630},{"x":1663,"v":600},{"x":1664,"v":612},{"x":1666,"v":620},{"x":1667,"v":600},{"x":1668,"v":590},{"x":1669,"v":620},{"x":1670,"v":660},{"x":1672,"v":740},{"x":1673,"v":825},{"x":1674,"v":780},{"x":1675,"v":740},{"x":1676,"v":710},{"x":1677,"v":680},{"x":1678,"v":662},{"x":1680,"v":650},{"x":1681,"v":660},{"x":1682,"v":690},{"x":1684,"v":710},{"x":1685,"v":722},{"x":1686,"v":728},{"x":1688,"v":732},{"x":1690,"v":735},{"x":1692,"v":735},{"x":1694,"v":738},{"x":1696,"v":728},{"x":1697,"v":712},{"x":1698,"v":700},{"x":1700,"v":695},{"x":1701,"v":695},{"x":1702,"v":705},{"x":1704,"v":712},{"x":1705,"v":715},{"x":1706,"v":660},{"x":1708,"v":620},{"x":1709,"v":580},{"x":1710,"v":578},{"x":1711,"v":590},{"x":1712,"v":640},{"x":1714,"v":680},{"x":1715,"v":705},{"x":1716,"v":720},{"x":1718,"v":730},{"x":1719,"v":710},{"x":1720,"v":706},{"x":1722,"v":730},{"x":1723,"v":760},{"x":1724,"v":790},{"x":1726,"v":810},{"x":1727,"v":830},{"x":1728,"v":815},{"x":1730,"v":805}
],
"levels":[{"name":"level","v":650},{"name":"base","v":824}]
},
"layer":[
{"data":{"name":"bars"},"mark":{"type":"rule","color":"#16e616","strokeWidth":2,"strokeCap":"butt"},
"encoding":{"x":{"field":"x","type":"quantitative","scale":{"domain":[0,1730],"nice":false,"zero":false},"axis":null},
"y":{"field":"h","type":"quantitative","scale":{"domain":[-48.75,1584.4],"reverse":true,"nice":false,"zero":false},"axis":null},
"y2":{"field":"l"}}},
{"data":{"name":"osc"},"mark":{"type":"line","color":"#ffd000","strokeWidth":1.3},
"encoding":{"x":{"field":"x","type":"quantitative","scale":{"domain":[0,1730],"nice":false,"zero":false},"axis":null},
"y":{"field":"v","type":"quantitative","scale":{"domain":[-48.75,1584.4],"reverse":true,"nice":false,"zero":false},"axis":null}}},
{"data":{"name":"levels"},"transform":[{"filter":"datum.name==='base'"}],"mark":{"type":"rule","color":"#b2ecec","strokeWidth":1},
"encoding":{"y":{"field":"v","type":"quantitative","scale":{"domain":[-48.75,1584.4],"reverse":true,"nice":false,"zero":false},"axis":null}}},
{"data":{"name":"levels"},"transform":[{"filter":"datum.name==='level'"}],"mark":{"type":"rule","color":"#0000ff","strokeWidth":1.5},
"encoding":{"y":{"field":"v","type":"quantitative","scale":{"domain":[-48.75,1584.4],"reverse":true,"nice":false,"zero":false},"axis":null}}}
]
}
